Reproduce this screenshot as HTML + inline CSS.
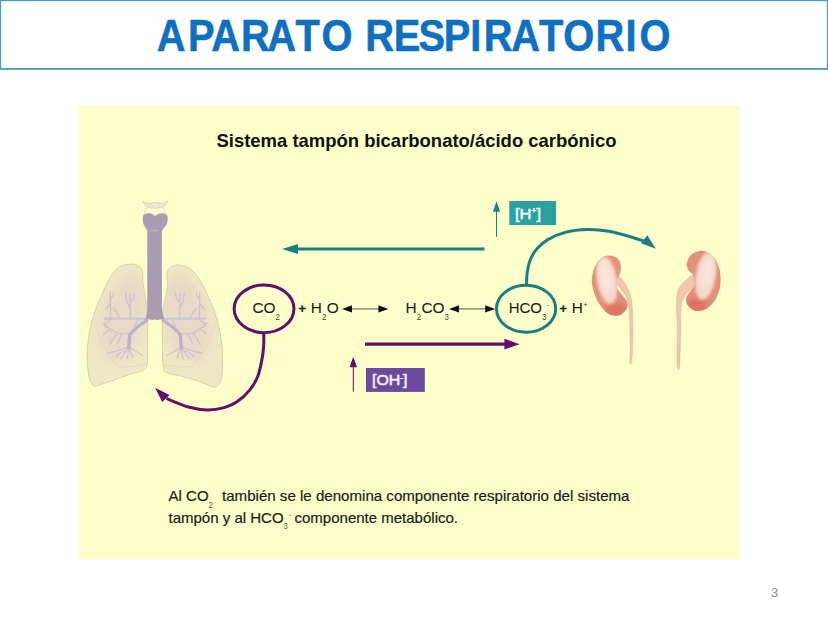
<!DOCTYPE html>
<html lang="es">
<head>
<meta charset="utf-8">
<title>Aparato respiratorio</title>
<style>
html,body{margin:0;padding:0;background:#fff;}
body{width:828px;height:621px;overflow:hidden;position:relative;font-family:"Liberation Sans",sans-serif;}
svg{position:absolute;left:0;top:0;display:block;}
text{font-family:"Liberation Sans",sans-serif;}
</style>
</head>
<body>
<svg width="828" height="621" viewBox="0 0 828 621">
  <defs>
    <filter id="b1" x="-20%" y="-20%" width="140%" height="140%"><feGaussianBlur stdDeviation="0.55"/></filter>
    <filter id="b2" x="-50%" y="-50%" width="200%" height="200%"><feGaussianBlur stdDeviation="2.4"/></filter>
    <filter id="b4" x="-50%" y="-50%" width="200%" height="200%"><feGaussianBlur stdDeviation="1.7"/></filter>
    <filter id="b3" x="-50%" y="-50%" width="200%" height="200%"><feGaussianBlur stdDeviation="6"/></filter>
    <clipPath id="ckL"><path d="M609.3 255.5 C611.9 255.7 615.8 256.9 617.7 258.6 C619.6 260.3 620.4 263.3 620.8 265.9 C621.1 268.5 620.5 272.0 619.8 274.3 C619.1 276.6 617.1 277.5 616.6 279.6 C616.1 281.7 615.9 284.6 616.6 286.9 C617.3 289.2 619.0 290.8 620.8 293.2 C622.5 295.6 626.0 299.1 627.1 301.5 C628.2 303.9 628.0 305.7 627.1 307.8 C626.2 309.9 623.8 312.8 621.9 314.1 C620.0 315.4 618.0 316.0 615.6 315.8 C613.2 315.6 610.2 315.5 607.2 313.1 C604.2 310.7 600.2 305.9 597.8 301.5 C595.4 297.1 593.5 291.1 592.6 286.9 C591.7 282.7 591.6 280.1 592.1 276.4 C592.6 272.7 594.1 268.0 595.7 264.9 C597.4 261.8 599.7 259.2 602.0 257.6 C604.3 256.0 606.7 255.3 609.3 255.5 Z"/></clipPath>
    <clipPath id="ckR"><path d="M699.8 250.9 C697.2 251.2 693.6 252.4 691.4 254.4 C689.2 256.4 687.3 260.2 686.8 262.8 C686.3 265.4 687.2 268.0 688.3 270.1 C689.4 272.2 692.5 272.9 693.5 275.4 C694.5 277.8 695.0 282.4 694.6 284.8 C694.2 287.2 692.8 287.9 691.4 290.0 C690.0 292.1 687.0 295.1 686.2 297.4 C685.4 299.7 685.9 301.7 686.8 303.6 C687.7 305.5 689.4 307.7 691.4 308.9 C693.4 310.1 695.9 311.2 698.7 311.0 C701.5 310.8 705.2 310.1 708.2 307.8 C711.2 305.5 714.5 301.2 716.5 297.4 C718.5 293.6 719.8 289.4 720.3 284.8 C720.8 280.2 720.6 274.5 719.7 270.1 C718.8 265.7 717.0 261.6 714.9 258.6 C712.8 255.6 709.6 253.6 707.1 252.3 C704.6 251.0 702.4 250.6 699.8 250.9 Z"/></clipPath>
    <clipPath id="clL"><path d="M128.5 264.5 C130.8 264.2 132.6 263.9 134.5 264.3 C136.4 264.7 138.3 265.4 139.7 266.7 C141.0 268.0 142.0 269.0 142.6 271.9 C143.2 274.8 142.4 278.9 143.1 284.3 C143.8 289.8 145.8 298.2 146.5 304.6 C147.2 311.0 147.4 315.9 147.6 322.6 C147.8 329.4 147.7 338.3 147.6 345.1 C147.5 351.9 147.8 359.1 147.2 363.2 C146.6 367.3 147.1 368.0 144.2 369.9 C141.3 371.8 134.7 372.7 129.6 374.4 C124.5 376.1 119.2 378.2 113.8 380.1 C108.3 382.0 100.4 384.8 96.9 385.7 C93.5 386.6 94.4 386.8 93.1 385.3 C91.8 383.8 90.0 381.5 89.0 376.7 C88.0 371.9 87.3 362.8 87.2 356.4 C87.1 350.0 87.5 345.2 88.6 338.4 C89.6 331.6 91.4 322.9 93.5 315.8 C95.6 308.7 98.4 302.4 101.4 295.6 C104.4 288.9 108.3 280.2 111.5 275.3 C114.7 270.4 117.8 268.1 120.6 266.3 C123.4 264.5 126.2 264.8 128.5 264.5 Z"/></clipPath>
    <clipPath id="clR"><path d="M179.3 265.1 C176.5 264.5 175.7 265.0 174.0 265.6 C172.3 266.2 170.4 266.9 169.2 268.5 C168.0 270.1 167.2 272.3 166.9 275.3 C166.6 278.3 168.2 281.2 167.6 286.5 C167.0 291.8 164.4 300.8 163.5 306.8 C162.6 312.8 162.6 316.2 162.4 322.6 C162.2 329.0 162.3 338.0 162.4 345.1 C162.5 352.2 162.5 360.9 163.1 365.4 C163.7 369.9 163.1 370.5 165.8 372.2 C168.5 373.9 174.4 374.3 179.3 375.6 C184.2 376.9 189.5 378.2 195.1 380.1 C200.7 382.0 209.3 385.9 213.1 386.8 C216.8 387.7 216.2 387.4 217.6 385.7 C219.0 384.0 220.9 381.6 221.7 376.7 C222.5 371.8 222.7 362.8 222.6 356.4 C222.5 350.0 222.0 344.8 221.0 338.4 C220.0 332.0 218.5 324.9 216.5 318.1 C214.5 311.3 211.8 304.2 209.0 297.8 C206.2 291.4 202.7 284.6 199.6 279.8 C196.5 275.0 194.0 271.4 190.6 269.0 C187.2 266.6 182.1 265.7 179.3 265.1 Z"/></clipPath>
  </defs>

  <!-- header -->
  <rect x="0.2" y="0.2" width="827.6" height="68.7" fill="#fff" stroke="#469fc6" stroke-width="1.9"/>
  <text id="title" transform="scale(0.915,1)" x="171.21 205.49 230.77 263.50 292.19 322.88 351.41 375.27 399.13 430.24 457.46 485.05 513.96 528.64 558.64 589.11 615.56 650.72 683.57 698.84" y="50.6" font-size="43.5" font-weight="bold" fill="#0d70c3" stroke="#0d70c3" stroke-width="0.55" stroke-linejoin="round">APARATO RESPIRATORIO</text>

  <!-- yellow panel -->
  <rect x="79" y="106" width="660.7" height="453.5" fill="#fdffcb"/>

  <text x="216.5" y="146.5" font-size="18.4" font-weight="bold" fill="#111" textLength="400" lengthAdjust="spacingAndGlyphs">Sistema tampón bicarbonato/ácido carbónico</text>

  <!-- lungs -->
  <g id="lungs">
    <g filter="url(#b1)">
      <path d="M128.5 264.5 C130.8 264.2 132.6 263.9 134.5 264.3 C136.4 264.7 138.3 265.4 139.7 266.7 C141.0 268.0 142.0 269.0 142.6 271.9 C143.2 274.8 142.4 278.9 143.1 284.3 C143.8 289.8 145.8 298.2 146.5 304.6 C147.2 311.0 147.4 315.9 147.6 322.6 C147.8 329.4 147.7 338.3 147.6 345.1 C147.5 351.9 147.8 359.1 147.2 363.2 C146.6 367.3 147.1 368.0 144.2 369.9 C141.3 371.8 134.7 372.7 129.6 374.4 C124.5 376.1 119.2 378.2 113.8 380.1 C108.3 382.0 100.4 384.8 96.9 385.7 C93.5 386.6 94.4 386.8 93.1 385.3 C91.8 383.8 90.0 381.5 89.0 376.7 C88.0 371.9 87.3 362.8 87.2 356.4 C87.1 350.0 87.5 345.2 88.6 338.4 C89.6 331.6 91.4 322.9 93.5 315.8 C95.6 308.7 98.4 302.4 101.4 295.6 C104.4 288.9 108.3 280.2 111.5 275.3 C114.7 270.4 117.8 268.1 120.6 266.3 C123.4 264.5 126.2 264.8 128.5 264.5 Z" fill="#eee8c5" stroke="#d3cfa8" stroke-width="1"/>
      <path d="M179.3 265.1 C176.5 264.5 175.7 265.0 174.0 265.6 C172.3 266.2 170.4 266.9 169.2 268.5 C168.0 270.1 167.2 272.3 166.9 275.3 C166.6 278.3 168.2 281.2 167.6 286.5 C167.0 291.8 164.4 300.8 163.5 306.8 C162.6 312.8 162.6 316.2 162.4 322.6 C162.2 329.0 162.3 338.0 162.4 345.1 C162.5 352.2 162.5 360.9 163.1 365.4 C163.7 369.9 163.1 370.5 165.8 372.2 C168.5 373.9 174.4 374.3 179.3 375.6 C184.2 376.9 189.5 378.2 195.1 380.1 C200.7 382.0 209.3 385.9 213.1 386.8 C216.8 387.7 216.2 387.4 217.6 385.7 C219.0 384.0 220.9 381.6 221.7 376.7 C222.5 371.8 222.7 362.8 222.6 356.4 C222.5 350.0 222.0 344.8 221.0 338.4 C220.0 332.0 218.5 324.9 216.5 318.1 C214.5 311.3 211.8 304.2 209.0 297.8 C206.2 291.4 202.7 284.6 199.6 279.8 C196.5 275.0 194.0 271.4 190.6 269.0 C187.2 266.6 182.1 265.7 179.3 265.1 Z" fill="#eee8c5" stroke="#d3cfa8" stroke-width="1"/>
    </g>
    <g clip-path="url(#clL)"><ellipse cx="124" cy="318" rx="21" ry="44" fill="#e5d7c7" opacity="0.85" filter="url(#b3)" transform="rotate(14 124 318)"/></g>
    <g clip-path="url(#clR)"><ellipse cx="186" cy="318" rx="21" ry="44" fill="#e5d7c7" opacity="0.85" filter="url(#b3)" transform="rotate(-14 186 318)"/></g>
    <g filter="url(#b1)" fill="none" stroke="#dad5b2" stroke-width="0.8" opacity="0.8">
      <path d="M92 318 C99 338 107 354 117 366 C127 368 138 366 146.5 364"/>
      <path d="M218 318 C211 338 203 354 193 366 C183 368 172 366 163.500 365"/>
    </g>
    <g fill="none" stroke="#c3b7d3" stroke-linecap="round" stroke-linejoin="round" filter="url(#b1)">
      <path d="M148.0 318.8 C144.7 318.8 135.2 318.7 128.0 318.7 C120.8 318.7 108.4 318.6 104.5 318.6 M162.0 318.8 C165.3 318.8 174.8 318.7 182.0 318.7 C189.2 318.7 201.6 318.6 205.5 318.6" stroke-width="2.2" stroke="#cfc5d4"/>
      <path d="M128.8 347.0 C127.0 347.6 121.5 349.5 118.0 350.5 C114.5 351.5 109.7 352.6 108.0 353.0 M128.8 347.0 C128.0 348.2 125.3 352.1 124.0 354.0 C122.7 355.9 121.4 357.8 120.9 358.6 M128.8 347.0 C128.7 348.2 128.3 352.1 128.0 354.0 C127.7 355.9 127.2 357.8 127.1 358.6 M128.8 347.0 C129.2 348.0 130.3 351.2 131.0 353.0 C131.7 354.8 132.4 356.8 132.7 357.5 M128.8 347.0 C130.0 347.8 133.7 350.1 136.0 351.5 C138.3 352.9 141.7 354.6 142.8 355.2 M125.0 351.0 C124.3 351.2 122.5 351.5 121.0 352.5 C119.5 353.5 116.8 356.2 116.0 357.0 M130.0 334.0 C128.0 333.9 121.1 334.1 118.0 333.3 C114.9 332.5 113.5 330.5 111.3 329.3 C109.0 328.1 105.6 326.6 104.5 326.0 M117.0 333.5 C116.3 334.4 114.2 337.2 113.0 339.0 C111.8 340.8 110.6 343.2 110.1 344.0 M111.3 329.3 C110.6 329.6 108.3 330.1 107.0 331.0 C105.7 331.9 104.1 333.9 103.5 334.5 M108.0 327.5 C107.5 327.0 105.8 325.2 105.0 324.5 C104.2 323.8 103.3 323.7 103.0 323.5 M122.0 333.5 C121.5 334.6 119.8 338.3 119.0 340.0 C118.2 341.7 117.8 342.9 117.5 343.5 M112.0 318.7 C111.3 319.2 109.2 321.2 108.0 322.0 C106.8 322.8 105.5 323.2 105.0 323.5 M110.8 318.6 C110.7 316.3 110.5 309.4 110.4 305.0 C110.3 300.6 110.2 294.2 110.2 292.0 M110.5 304.0 C110.0 304.4 108.3 305.6 107.5 306.5 C106.7 307.4 105.8 309.0 105.5 309.5 M110.4 299.0 C110.8 298.5 112.4 297.0 113.0 296.0 C113.6 295.0 113.8 293.5 114.0 293.0 M130.4 318.7 C130.4 316.4 130.3 309.3 130.2 305.0 C130.1 300.7 129.9 295.0 129.9 293.0 M130.2 308.0 C129.7 307.0 127.7 304.5 127.0 302.0 C126.3 299.5 126.0 294.5 125.8 293.0 M130.1 303.0 C130.7 302.2 132.8 299.6 133.5 298.0 C134.2 296.4 134.3 294.2 134.5 293.5 M120.0 318.7 C119.4 317.6 117.5 313.7 116.5 312.0 C115.5 310.3 114.4 309.1 114.0 308.5 M138.0 318.7 C137.8 319.2 137.7 320.8 137.0 322.0 C136.3 323.2 134.5 325.3 134.0 326.0 M181.2 347.0 C183.0 347.6 188.5 349.5 192.0 350.5 C195.5 351.5 200.3 352.6 202.0 353.0 M181.2 347.0 C182.0 348.2 184.7 352.1 186.0 354.0 C187.3 355.9 188.6 357.8 189.1 358.6 M181.2 347.0 C181.3 348.2 181.7 352.1 182.0 354.0 C182.3 355.9 182.8 357.8 182.9 358.6 M181.2 347.0 C180.8 348.0 179.7 351.2 179.0 353.0 C178.3 354.8 177.6 356.8 177.3 357.5 M181.2 347.0 C180.0 347.8 176.3 350.1 174.0 351.5 C171.7 352.9 168.3 354.6 167.2 355.2 M185.0 351.0 C185.7 351.2 187.5 351.5 189.0 352.5 C190.5 353.5 193.2 356.2 194.0 357.0 M180.0 334.0 C182.0 333.9 188.9 334.1 192.0 333.3 C195.1 332.5 196.4 330.5 198.7 329.3 C200.9 328.1 204.4 326.6 205.5 326.0 M193.0 333.5 C193.7 334.4 195.8 337.2 197.0 339.0 C198.2 340.8 199.4 343.2 199.9 344.0 M198.7 329.3 C199.4 329.6 201.7 330.1 203.0 331.0 C204.3 331.9 205.9 333.9 206.5 334.5 M202.0 327.5 C202.5 327.0 204.2 325.2 205.0 324.5 C205.8 323.8 206.7 323.7 207.0 323.5 M188.0 333.5 C188.5 334.6 190.2 338.3 191.0 340.0 C191.8 341.7 192.2 342.9 192.5 343.5 M198.0 318.7 C198.7 319.2 200.8 321.2 202.0 322.0 C203.2 322.8 204.5 323.2 205.0 323.5 M199.2 318.6 C199.3 316.3 199.5 309.4 199.6 305.0 C199.7 300.6 199.8 294.2 199.8 292.0 M199.5 304.0 C200.0 304.4 201.7 305.6 202.5 306.5 C203.3 307.4 204.2 309.0 204.5 309.5 M199.6 299.0 C199.2 298.5 197.6 297.0 197.0 296.0 C196.4 295.0 196.2 293.5 196.0 293.0 M179.6 318.7 C179.6 316.4 179.7 309.3 179.8 305.0 C179.9 300.7 180.1 295.0 180.1 293.0 M179.8 308.0 C180.3 307.0 182.3 304.5 183.0 302.0 C183.7 299.5 184.0 294.5 184.2 293.0 M179.9 303.0 C179.3 302.2 177.2 299.6 176.5 298.0 C175.8 296.4 175.7 294.2 175.5 293.5 M190.0 318.7 C190.6 317.6 192.5 313.7 193.5 312.0 C194.5 310.3 195.6 309.1 196.0 308.5 M172.0 318.7 C172.2 319.2 172.3 320.8 173.0 322.0 C173.7 323.2 175.5 325.3 176.0 326.0" stroke-width="1.3" stroke="#cdc2d0"/>
      <path d="M147.0 320.3 C145.8 321.1 142.2 323.3 140.0 325.0 C137.8 326.7 135.2 328.8 133.5 330.5 C131.8 332.2 130.5 333.2 129.8 335.0 C129.1 336.8 129.4 338.8 129.2 341.0 C129.0 343.2 128.9 346.8 128.8 348.0 M163.0 320.3 C164.2 321.1 167.8 323.3 170.0 325.0 C172.2 326.7 174.8 328.8 176.5 330.5 C178.2 332.2 179.5 333.2 180.2 335.0 C180.9 336.8 180.6 338.8 180.8 341.0 C181.0 343.2 181.1 346.8 181.2 348.0" stroke-width="3.3" stroke="#bdb0cf"/>
    </g>
    <path d="M147.3 228 L161.9 228 L161.9 306 C161.9 311 162.800 315 164.500 318.800 C161.500 319 159.500 319.200 158 320.300 C156.500 319.300 153.500 319.300 152 320.300 C150.500 319.200 148.500 319 145.500 318.800 C147 315 147.3 311 147.3 306 Z" fill="#ab9eb3"/>
    <path d="M147.3 234h14.6M147.3 237h14.6M147.3 240h14.6M147.3 243h14.6M147.3 246h14.6M147.3 249h14.6M147.3 252h14.6M147.3 255h14.6M147.3 258h14.6M147.3 261h14.6M147.3 264h14.6M147.3 267h14.6M147.3 270h14.6M147.3 273h14.6M147.3 276h14.6M147.3 279h14.6M147.3 282h14.6M147.3 285h14.6M147.3 288h14.6M147.3 291h14.6M147.3 294h14.6M147.3 297h14.6M147.3 300h14.6M147.3 303h14.6M147.3 306h14.6M147.3 309h14.6" stroke="#9f93a8" stroke-width="0.6" fill="none" opacity="0.55"/>
    <path d="M142.800 217 C142.800 214.200 146 213 149.500 213.200 C152 213.400 154 214.800 155.100 216.200 C156.200 214.800 158.500 213.400 161 213.200 C164.500 213 167.700 214.200 167.700 217 L167.500 222 C166.800 225.500 163.500 227.500 162.200 230.500 L147.200 230.500 C146 227.500 143.400 225.500 142.900 222 Z" fill="#a99cb3" filter="url(#b1)"/>
    <path d="M150 230.500 C152 229.200 158 229.200 160 230.500 C158 231.800 152 231.800 150 230.500 Z" fill="#bbafc4"/>
    <g filter="url(#b1)">
      <path d="M143 201 C145.500 203.200 148.500 203.800 151 203.400 C152.500 202.200 157.700 202.200 159.200 203.400 C161.700 203.800 164.900 203.200 167.400 201 C166.800 205.300 162.500 208.200 155.100 208.200 C147.700 208.200 143.600 205.300 143 201 Z" fill="#ebe8da" stroke="#cdc9b8" stroke-width="0.7"/>
      <path d="M144.500 213.500 C145 209.500 147 208 148.500 207 M165.800 213.500 C165.300 209.500 163.300 208 161.800 207" fill="none" stroke="#d6d2b6" stroke-width="0.7"/>
    </g>
  </g>

  <!-- kidneys -->
  <g id="kidneys">
    <g filter="url(#b1)" fill="#f0c6ac" stroke="#e2aa90" stroke-width="0.5">
      <path d="M617.0 275.5 C617.9 274.8 620.3 277.6 622.0 279.5 C623.7 281.4 625.6 284.2 627.0 287.0 C628.4 289.8 629.6 292.5 630.5 296.0 C631.4 299.5 631.9 302.3 632.3 308.0 C632.7 313.7 632.8 323.0 632.8 330.0 C632.8 337.0 632.6 344.6 632.4 350.0 C632.2 355.4 631.9 360.4 631.5 362.5 C631.1 364.6 630.1 364.6 629.9 362.5 C629.7 360.4 630.2 355.4 630.2 350.0 C630.2 344.6 630.1 336.7 630.0 330.0 C629.9 323.3 629.7 315.0 629.3 310.0 C628.9 305.0 628.4 302.8 627.5 300.0 C626.6 297.2 625.2 295.0 624.0 293.0 C622.8 291.0 621.2 289.5 620.0 288.0 C618.8 286.5 617.1 286.1 616.6 284.0 C616.1 281.9 616.1 276.2 617.0 275.5 Z"/>
      <path d="M693.5 275.5 C692.4 274.2 689.8 277.2 688.0 278.5 C686.2 279.8 684.5 281.3 683.0 283.0 C681.5 284.7 680.0 286.5 679.0 288.5 C678.0 290.5 677.4 291.8 677.0 295.0 C676.6 298.2 676.5 302.2 676.6 308.0 C676.7 313.8 677.3 323.0 677.4 330.0 C677.5 337.0 677.0 343.8 677.0 350.0 C677.0 356.2 677.2 364.6 677.6 367.5 C678.0 370.4 679.0 370.4 679.4 367.5 C679.8 364.6 680.0 356.2 680.2 350.0 C680.4 343.8 680.7 336.3 680.8 330.0 C680.9 323.7 680.4 316.7 680.6 312.0 C680.8 307.3 681.2 304.8 682.0 302.0 C682.8 299.2 684.2 296.9 685.5 295.0 C686.8 293.1 688.5 292.0 690.0 290.5 C691.5 289.0 694.0 288.5 694.6 286.0 C695.2 283.5 694.6 276.8 693.5 275.5 Z"/>
    </g>
    <g filter="url(#b1)">
    <g clip-path="url(#ckL)">
      <rect x="588" y="252" width="44" height="68" fill="#e3907c"/>
      <ellipse cx="616" cy="310" rx="11" ry="6.5" fill="#d86f5b" opacity="0.85" filter="url(#b2)"/>
      <ellipse cx="607" cy="280" rx="9.800" ry="24" fill="#f6dacc" filter="url(#b4)" transform="rotate(-9 607 280)"/>
      <ellipse cx="605.3" cy="277" rx="6" ry="17" fill="#f9e6db" opacity="0.9" filter="url(#b2)" transform="rotate(-9 605.3 277)"/>
    </g>
    <g clip-path="url(#ckR)">
      <rect x="682" y="247" width="44" height="68" fill="#e3907c"/>
      <ellipse cx="697" cy="305" rx="11" ry="6.5" fill="#d86f5b" opacity="0.85" filter="url(#b2)"/>
      <ellipse cx="705.600" cy="276" rx="9.800" ry="24" fill="#f6dacc" filter="url(#b4)" transform="rotate(9 705.600 276)"/>
      <ellipse cx="707.5" cy="273" rx="6" ry="17" fill="#f9e6db" opacity="0.9" filter="url(#b2)" transform="rotate(9 707.5 273)"/>
    </g>
    </g>
  </g>

  <!-- teal long arrow (left) -->
  <line x1="296" y1="249" x2="484.5" y2="249" stroke="#1b7f82" stroke-width="3.2"/>
  <polygon points="282,249 298,243.9 298,254.1" fill="#1b7f82"/>

  <!-- [H+] -->
  <line x1="496.5" y1="210" x2="496.5" y2="237" stroke="#1b7f82" stroke-width="1"/>
  <polygon points="496.500,201.300 493,211.700 500,211.700" fill="#1b7f82"/>
  <rect x="509.3" y="201" width="46.7" height="24" fill="#2ba0a0"/>
  <text x="515" y="218.500" font-size="15" font-weight="normal" fill="#f2fbfb" stroke="#f2fbfb" stroke-width="0.55" textLength="26" lengthAdjust="spacingAndGlyphs">[H<tspan dy="-5.5" font-size="7.5">+</tspan><tspan dy="5.5">]</tspan></text>

  <!-- teal curve from HCO3 -->
  <path d="M526.5 284.6 C526.6 282.6 526.6 276.8 527.2 272.6 C527.9 268.4 528.8 263.6 530.4 259.6 C532.0 255.6 534.1 252.0 537.0 248.7 C539.9 245.4 543.1 242.3 547.8 239.6 C552.5 236.9 558.7 234.1 565.2 232.4 C571.7 230.7 579.8 229.8 587.0 229.6 C594.2 229.4 601.5 230.1 608.7 231.3 C615.9 232.5 624.5 235.0 630.4 236.7 C636.3 238.4 641.9 240.5 644.2 241.3" fill="none" stroke="#1b7f82" stroke-width="3"/>
  <polygon points="655.8,248.8 647.3,235.3 641,243.3" fill="#1b7f82"/>

  <!-- purple curve from CO2 -->
  <path d="M263.7 332.6 C263.7 334.7 264.0 340.8 263.7 345.1 C263.4 349.4 263.1 353.5 262.1 358.6 C261.1 363.8 259.9 370.8 257.9 376.0 C255.9 381.2 253.6 385.2 250.1 389.6 C246.6 394.0 241.1 399.1 236.6 402.1 C232.1 405.2 227.9 406.6 223.1 407.9 C218.3 409.2 213.4 410.0 207.6 409.9 C201.8 409.8 195.2 408.9 188.3 407.0 C181.5 405.1 170.1 399.9 166.5 398.5" fill="none" stroke="#650c6c" stroke-width="3"/>
  <polygon points="155.1,387.8 169.5,394.9 162.3,402.1" fill="#650c6c"/>

  <!-- ellipses -->
  <ellipse cx="264.05" cy="308.8" rx="29.9" ry="23.9" fill="none" stroke="#650c6c" stroke-width="3"/>
  <ellipse cx="526.1" cy="308.7" rx="29.6" ry="23.5" fill="none" stroke="#1b7f82" stroke-width="3"/>

  <!-- equation -->
  <g font-size="15.5" fill="#1c1c1c" stroke="#1c1c1c" stroke-width="0.08">
    <text x="252.4" y="313.4"><tspan textLength="23.1" lengthAdjust="spacingAndGlyphs">CO</tspan><tspan dy="6.7" font-size="8.8" stroke="none" fill="#3a3a3a" textLength="4.3" lengthAdjust="spacingAndGlyphs">2</tspan></text>
    <text x="298.3" y="313.4" font-size="13.5" font-weight="bold" stroke-width="0.15">+</text>
    <text x="310.8" y="313.4"><tspan textLength="11.1" lengthAdjust="spacingAndGlyphs">H</tspan><tspan dy="6.7" font-size="8.8" stroke="none" fill="#3a3a3a" textLength="4.3" lengthAdjust="spacingAndGlyphs" dx="0.3">2</tspan><tspan textLength="12" lengthAdjust="spacingAndGlyphs" dy="-6.7" dx="0.3">O</tspan></text>
    <text x="405.4" y="313.4"><tspan textLength="11.1" lengthAdjust="spacingAndGlyphs">H</tspan><tspan dy="6.7" font-size="8.8" stroke="none" fill="#3a3a3a" textLength="4.3" lengthAdjust="spacingAndGlyphs" dx="0.3">2</tspan><tspan textLength="23.1" lengthAdjust="spacingAndGlyphs" dy="-6.7" dx="0.3">CO</tspan><tspan dy="6.7" font-size="8.8" stroke="none" fill="#3a3a3a" textLength="4.3" lengthAdjust="spacingAndGlyphs">3</tspan></text>
    <text x="508.7" y="313.4"><tspan textLength="33.3" lengthAdjust="spacingAndGlyphs">HCO</tspan><tspan dy="6.7" font-size="8.8" stroke="none" fill="#3a3a3a" textLength="4.3" lengthAdjust="spacingAndGlyphs">3</tspan><tspan dy="-13.2" dx="0.5" font-size="8" stroke="none" fill="#555">-</tspan></text>
    <text x="559.3" y="313.4" font-size="13.5" font-weight="bold" stroke-width="0.15">+</text>
    <text x="571.7" y="313.4"><tspan textLength="11.1" lengthAdjust="spacingAndGlyphs">H</tspan><tspan dy="-6.8" dx="0.8" font-size="6.5" stroke="none">+</tspan></text>
  </g>
  <!-- double arrows -->
  <g>
    <line x1="350" y1="308.9" x2="380" y2="308.9" stroke="#555" stroke-width="1"/>
    <polygon points="342,308.9 352,305.3 352,312.5" fill="#111"/>
    <polygon points="388.4,308.9 378.4,305.3 378.4,312.5" fill="#111"/>
    <line x1="457" y1="308.9" x2="487" y2="308.9" stroke="#555" stroke-width="1"/>
    <polygon points="449,308.9 459,305.3 459,312.5" fill="#111"/>
    <polygon points="495.2,308.9 485.2,305.3 485.2,312.5" fill="#111"/>
  </g>

  <!-- purple arrow -->
  <line x1="365" y1="344.2" x2="506" y2="344.2" stroke="#650c6c" stroke-width="3.2"/>
  <polygon points="519.6,344.2 504.4,338.8 504.4,349.6" fill="#650c6c"/>

  <!-- [OH-] -->
  <line x1="353.3" y1="366" x2="353.3" y2="391.800" stroke="#650c6c" stroke-width="1"/>
  <polygon points="353.3,356.800 349.600,367.200 357,367.200" fill="#650c6c"/>
  <rect x="366" y="368" width="58.800" height="23.900" fill="#6a4a9e"/>
  <text x="372" y="385.400" font-size="15.500" font-weight="normal" fill="#f6f2fb" stroke="#f6f2fb" stroke-width="0.55" textLength="35.500" lengthAdjust="spacingAndGlyphs">[OH<tspan dy="-5.5" font-size="8">-</tspan><tspan dy="5.5">]</tspan></text>

  <!-- caption -->
  <g font-size="15" fill="#1c1c1c" stroke="#1c1c1c" stroke-width="0.2">
    <text x="168.5" y="501.3"><tspan textLength="40.1" lengthAdjust="spacingAndGlyphs">Al CO</tspan><tspan dy="6.2" font-size="8.8" stroke="none" fill="#555" textLength="4.3" lengthAdjust="spacingAndGlyphs">2</tspan></text>
    <text x="222" y="501.3" textLength="407.5" lengthAdjust="spacingAndGlyphs">también se le denomina componente respiratorio del sistema</text>
    <text x="168.5" y="523.2"><tspan textLength="115.1" lengthAdjust="spacingAndGlyphs">tampón y al HCO</tspan><tspan dy="6.2" font-size="8.8" stroke="none" fill="#555" textLength="4.3" lengthAdjust="spacingAndGlyphs">3</tspan><tspan dy="-12.6" dx="0.6" font-size="8" stroke="none" fill="#555">-</tspan></text>
    <text x="294.5" y="523.2" textLength="163.5" lengthAdjust="spacingAndGlyphs">componente metabólico.</text>
  </g>

  <!-- page number -->
  <text x="771" y="597" font-size="13" fill="#8c8c8c">3</text>
</svg>
</body>
</html>
